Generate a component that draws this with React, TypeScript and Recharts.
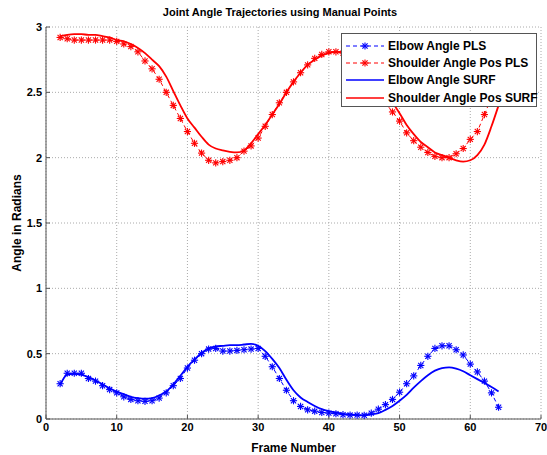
import React from 'react';
import { LineChart, Line, XAxis, YAxis, CartesianGrid, Legend } from 'recharts';

const frames = [2, 3, 4, 5, 6, 7, 8, 9, 10, 11, 12, 13, 14, 15, 16, 17, 18, 19, 20, 21, 22, 23, 24, 25, 26, 27, 28, 29, 30, 31, 32, 33, 34, 35, 36, 37, 38, 39, 40, 41, 42, 43, 44, 45, 46, 47, 48, 49, 50, 51, 52, 53, 54, 55, 56, 57, 58, 59, 60, 61, 62, 63, 64];

const elbowPLS = [0.27, 0.35, 0.35, 0.35, 0.31, 0.29, 0.255, 0.225, 0.2, 0.17, 0.15, 0.14, 0.135, 0.14, 0.16, 0.2, 0.255, 0.31, 0.39, 0.45, 0.5, 0.535, 0.54, 0.52, 0.52, 0.525, 0.53, 0.535, 0.54, 0.48, 0.4, 0.31, 0.22, 0.14, 0.096, 0.07, 0.06, 0.05, 0.045, 0.04, 0.033, 0.03, 0.03, 0.028, 0.045, 0.075, 0.11, 0.15, 0.205, 0.27, 0.33, 0.41, 0.48, 0.54, 0.56, 0.56, 0.53, 0.49, 0.42, 0.36, 0.29, 0.2, 0.09];

const shoulderPLS = [2.92, 2.91, 2.9, 2.9, 2.9, 2.9, 2.9, 2.9, 2.89, 2.87, 2.85, 2.81, 2.74, 2.68, 2.6, 2.5, 2.4, 2.3, 2.2, 2.11, 2.035, 1.98, 1.96, 1.97, 1.98, 2.0, 2.05, 2.09, 2.15, 2.24, 2.33, 2.42, 2.5, 2.58, 2.65, 2.71, 2.76, 2.79, 2.81, 2.81, 2.8, 2.77, 2.72, 2.65, 2.57, 2.49, 2.42, 2.35, 2.28, 2.19, 2.13, 2.08, 2.04, 2.01, 2.0, 2.0, 2.03, 2.07, 2.14, 2.2, 2.33, 2.46, 2.6];

const elbowSURF = [0.26, 0.34, 0.345, 0.34, 0.32, 0.295, 0.265, 0.235, 0.21, 0.19, 0.17, 0.16, 0.155, 0.16, 0.18, 0.21, 0.265, 0.33, 0.4, 0.455, 0.505, 0.54, 0.555, 0.56, 0.565, 0.565, 0.57, 0.575, 0.56, 0.52, 0.46, 0.39, 0.3, 0.22, 0.165, 0.13, 0.1, 0.075, 0.06, 0.05, 0.04, 0.035, 0.03, 0.028, 0.035, 0.045, 0.07, 0.1, 0.14, 0.185, 0.24, 0.29, 0.335, 0.37, 0.39, 0.395, 0.385, 0.365, 0.335, 0.305, 0.275, 0.245, 0.21];

const shoulderSURF = [2.93, 2.94, 2.945, 2.945, 2.94, 2.94, 2.93, 2.92, 2.9, 2.89, 2.87, 2.84, 2.8, 2.75, 2.7, 2.62, 2.51, 2.4, 2.3, 2.23, 2.16, 2.1, 2.07, 2.055, 2.045, 2.04, 2.055, 2.11, 2.18, 2.25, 2.33, 2.41, 2.5, 2.58, 2.65, 2.71, 2.75, 2.78, 2.8, 2.81, 2.81, 2.79, 2.75, 2.69, 2.62, 2.55, 2.48, 2.42, 2.34, 2.25, 2.18, 2.12, 2.08, 2.04, 2.02, 2.0, 1.98, 1.97, 1.98, 2.02, 2.1, 2.24, 2.4];

const xTicks = [0, 10, 20, 30, 40, 50, 60, 70];
const yTicks = [0, 0.5, 1, 1.5, 2, 2.5, 3];

const seriesNames = ['Elbow Angle PLS', 'Shoulder Angle Pos PLS', 'Elbow Angle SURF', 'Shoulder Angle Pos SURF'];
const seriesColors = ['#0000ff', '#ff0000', '#0000ff', '#ff0000'];
const seriesDashed = [true, true, false, false];

const data = frames.map((f, i) => ({
  frame: f,
  elbowPLS: elbowPLS[i],
  shoulderPLS: shoulderPLS[i],
  elbowSURF: elbowSURF[i],
  shoulderSURF: shoulderSURF[i],
}));

const FONT = '"Liberation Sans", Arial, sans-serif';

const Asterisk = (props: any) => {
  const { cx, cy, stroke, index } = props;
  if (cx == null || cy == null) return <g key={index} />;
  const r = 3.6;
  const d = r * 0.72;
  return (
    <g key={index} stroke={stroke} strokeWidth={1.1}>
      <line x1={cx - r} y1={cy} x2={cx + r} y2={cy} />
      <line x1={cx} y1={cy - r} x2={cx} y2={cy + r} />
      <line x1={cx - d} y1={cy - d} x2={cx + d} y2={cy + d} />
      <line x1={cx - d} y1={cy + d} x2={cx + d} y2={cy - d} />
    </g>
  );
};

const LegendBox = () => (
  <div
    style={{
      width: 196,
      height: 74,
      boxSizing: 'border-box',
      border: '1px solid #555',
      background: '#fff',
      paddingTop: 3,
      fontFamily: FONT,
      fontWeight: 'bold',
      fontSize: 12,
      color: '#000',
    }}
  >
    {seriesNames.map((name, i) => (
      <div key={name} style={{ display: 'flex', alignItems: 'center', height: 17.3 }}>
        <svg width={46} height={14} style={{ flex: 'none' }}>
          <line
            x1={4}
            y1={7}
            x2={42}
            y2={7}
            stroke={seriesColors[i]}
            strokeWidth={seriesDashed[i] ? 1 : 1.6}
            strokeDasharray={seriesDashed[i] ? '4 3' : undefined}
          />
          {seriesDashed[i] ? <Asterisk cx={23} cy={7} stroke={seriesColors[i]} /> : null}
        </svg>
        <span style={{ whiteSpace: 'nowrap' }}>{name}</span>
      </div>
    ))}
  </div>
);

const tickStyle = { fontFamily: FONT, fontWeight: 'bold' as const, fontSize: 11, fill: '#000' };

export default function App() {
  return (
    <div style={{ position: 'absolute', left: 0, top: 0, width: 547, height: 455, background: '#fff' }}>
      <div
        style={{
          position: 'absolute',
          left: 0,
          width: 560,
          top: 6,
          textAlign: 'center',
          fontFamily: FONT,
          fontWeight: 'bold',
          fontSize: 11,
          color: '#000',
        }}
      >
        Joint Angle Trajectories using Manual Points
      </div>
      <LineChart
        width={547}
        height={455}
        data={data}
        margin={{ top: 27, right: 6, bottom: 0, left: 0 }}
        style={{ position: 'absolute', left: 0, top: 0 }}
      >
        <CartesianGrid stroke="#aaa" strokeDasharray="1 2" strokeWidth={1} />
        <XAxis
          dataKey="frame"
          type="number"
          domain={[0, 70]}
          ticks={xTicks}
          height={36}
          stroke="#555"
          tickSize={-4}
          tickMargin={8}
          tick={tickStyle}
          allowDataOverflow
          label={{ value: 'Frame Number', position: 'insideBottom', offset: 3, style: { fontFamily: FONT, fontWeight: 'bold', fontSize: 12, fill: '#000' } }}
        />
        <XAxis
          xAxisId="top"
          orientation="top"
          dataKey="frame"
          type="number"
          domain={[0, 70]}
          ticks={xTicks}
          height={0}
          stroke="#555"
          tickSize={-4}
          tick={false}
        />
        <YAxis
          type="number"
          domain={[0, 3]}
          ticks={yTicks}
          width={46}
          stroke="#555"
          tickSize={-4}
          tickMargin={8}
          tick={tickStyle}
          allowDataOverflow
          label={{ value: 'Angle in Radians', angle: -90, position: 'center', dx: -6, style: { fontFamily: FONT, fontWeight: 'bold', fontSize: 12, fill: '#000', textAnchor: 'middle' } }}
        />
        <YAxis
          yAxisId="right"
          orientation="right"
          type="number"
          domain={[0, 3]}
          ticks={yTicks}
          width={0}
          stroke="#555"
          tickSize={-4}
          tick={false}
        />
        <Line
          dataKey="elbowPLS"
          name={seriesNames[0]}
          stroke={seriesColors[0]}
          strokeWidth={1}
          strokeDasharray="4 3"
          dot={Asterisk}
          activeDot={false}
          type="linear"
          isAnimationActive={false}
        />
        <Line
          dataKey="shoulderPLS"
          name={seriesNames[1]}
          stroke={seriesColors[1]}
          strokeWidth={1}
          strokeDasharray="4 3"
          dot={Asterisk}
          activeDot={false}
          type="linear"
          isAnimationActive={false}
        />
        <Line
          dataKey="elbowSURF"
          name={seriesNames[2]}
          stroke={seriesColors[2]}
          strokeWidth={1.8}
          dot={false}
          activeDot={false}
          type="monotone"
          isAnimationActive={false}
        />
        <Line
          dataKey="shoulderSURF"
          name={seriesNames[3]}
          stroke={seriesColors[3]}
          strokeWidth={1.8}
          dot={false}
          activeDot={false}
          type="monotone"
          isAnimationActive={false}
        />
        <Legend
          layout="horizontal"
          verticalAlign="middle"
          align="center"
          wrapperStyle={{ left: 341, top: 33, width: 196, height: 74 }}
          content={() => <LegendBox />}
        />
      </LineChart>
    </div>
  );
}
